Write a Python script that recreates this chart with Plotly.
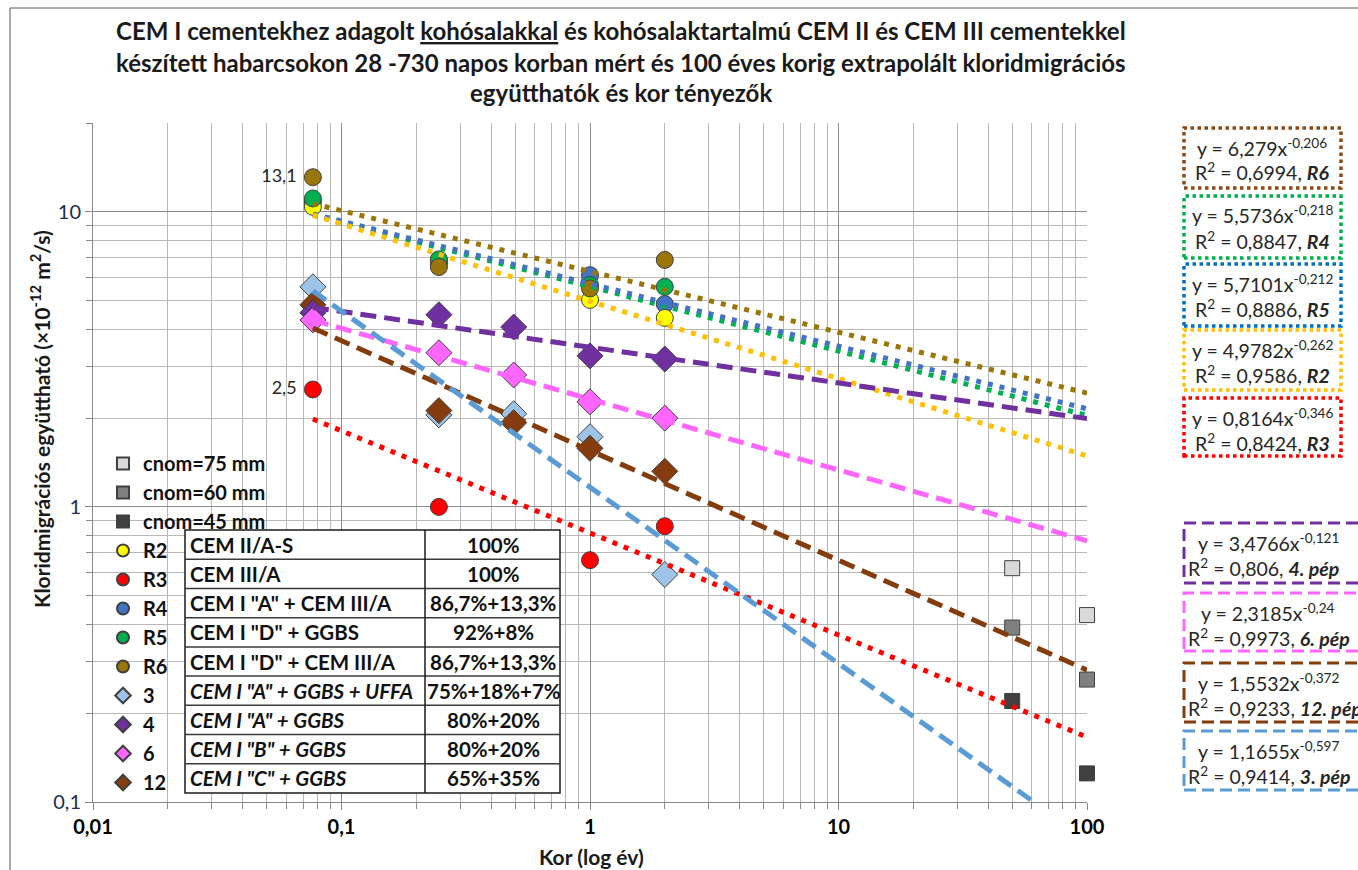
import numpy as np
import plotly.graph_objects as go

# ---------------- data ----------------
ages_R = [28/365, 90/365, 1.0, 2.0]
ages_D = [28/365, 90/365, 180/365, 1.0, 2.0]
ages_cnom = [50, 100]

R2 = [10.4, 6.8, 5.03, 4.37]
R3 = [2.5, 1.0, 0.66, 0.86]
R4 = [10.8, 6.7, 6.1, 4.87]
R5 = [11.1, 6.9, 5.65, 5.57]
R6 = [13.1, 6.5, 5.5, 6.87]

S3 = [5.57, 2.05, 2.07, 1.73, 0.59]
S4 = [4.55, 4.48, 4.07, 3.25, 3.17]
S6 = [4.3, 3.33, 2.8, 2.27, 2.0]
S12 = [4.84, 2.12, 1.93, 1.58, 1.32]

cnom75 = [0.62, 0.43]
cnom60 = [0.39, 0.26]
cnom45 = [0.22, 0.125]

# power trend lines y = a * x^b (as shown on the chart)
trend_names = ["R6", "R4", "R5", "R2", "R3", "4", "6", "12", "3"]
trend_a = [6.279, 5.5736, 5.7101, 4.9782, 0.8164, 3.4766, 2.3185, 1.5532, 1.1655]
trend_b = [-0.206, -0.218, -0.212, -0.262, -0.346, -0.121, -0.24, -0.372, -0.597]
trend_r2 = ["0,6994", "0,8847", "0,8886", "0,9586", "0,8424", "0,806", "0,9973", "0,9233", "0,9414"]
trend_a_txt = ["6,279", "5,5736", "5,7101", "4,9782", "0,8164", "3,4766", "2,3185", "1,5532", "1,1655"]
trend_b_txt = ["-0,206", "-0,218", "-0,212", "-0,262", "-0,346", "-0,121", "-0,24", "-0,372", "-0,597"]
trend_label = ["R6", "R4", "R5", "R2", "R3", "4. pép", "6. pép", "12. pép", "3. pép"]

table_left = ["CEM II/A-S", "CEM III/A", 'CEM I "A" + CEM III/A', 'CEM I "D" + GGBS',
              'CEM I "D" + CEM III/A', 'CEM I "A" + GGBS + UFFA', 'CEM I "A" + GGBS',
              'CEM I "B" + GGBS', 'CEM I "C" + GGBS']
table_right = ["100%", "100%", "86,7%+13,3%", "92%+8%", "86,7%+13,3%", "75%+18%+7%",
               "80%+20%", "80%+20%", "65%+35%"]
table_italic = [False, False, False, False, False, True, True, True, True]

x_tickvals = [0.01, 0.1, 1, 10, 100]
x_ticktext = ["0,01", "0,1", "1", "10", "100"]
y_tickvals = [0.1, 1, 10]
y_ticktext = ["0,1", "1", "10"]

# ---------------- layout geometry (pixels) ----------------
W, H = 1358, 870
L, R, T, B = 93, 1087, 123, 802
FONT = "Lato"


def px(x):
    return (x - L) / (R - L)


def py(y):
    return (B - y) / (B - T)


fig = go.Figure()

OUT = dict(color="#404040", width=1)


def markers(x, y, name, color, symbol, size, rank, text=None):
    fig.add_trace(go.Scatter(
        x=x, y=y, mode="markers+text" if text else "markers", name="<b>" + name + "</b>",
        marker=dict(color=color, symbol=symbol, size=size, line=OUT),
        text=text, textposition="middle left",
        textfont=dict(family=FONT, size=18, color="#262626"),
        legendrank=rank, legendgroup=name, cliponaxis=False))


markers(ages_D, S3, "3", "#9DC3E6", "diamond", 20, 9)
markers(ages_D, S12, "12", "#843C0C", "diamond", 20, 12)
markers(ages_D, S4, "4", "#7030A0", "diamond", 20, 10)
markers(ages_D, S6, "6", "#FF66FF", "diamond", 20, 11)
markers(ages_R, R3, "R3", "#FF0000", "circle", 17, 5, ["2,5 ", "", "", ""])
markers(ages_R, R4, "R4", "#4472C4", "circle", 17, 6)
markers(ages_R, R2, "R2", "#FFFF00", "circle", 17, 4)
markers(ages_R, R5, "R5", "#00B050", "circle", 17, 7)
markers(ages_R, R6, "R6", "#9A7508", "circle", 17, 8, ["13,1 ", "", "", ""])
markers(ages_cnom, cnom75, "cnom=75 mm", "#D9D9D9", "square", 15, 1)
markers(ages_cnom, cnom60, "cnom=60 mm", "#808080", "square", 15, 2)
markers(ages_cnom, cnom45, "cnom=45 mm", "#404040", "square", 15, 3)

trend_colors = ["#9A7508", "#00B050", "#4472C4", "#FFC000", "#FF0000",
                "#7030A0", "#FF66FF", "#843C0C", "#5B9BD5"]
trend_dash = ["5px,7px"] * 5 + ["16px,8px"] * 4
trend_width = [5] * 5 + [5] * 4
xt = np.logspace(np.log10(28/365), 2, 300)
for i in range(len(trend_names)):
    fig.add_trace(go.Scatter(
        x=xt, y=trend_a[i] * xt ** trend_b[i], mode="lines", showlegend=False,
        line=dict(color=trend_colors[i], dash=trend_dash[i], width=trend_width[i]),
        hoverinfo="skip"))

# ---------------- axes ----------------
grid_major = "#8C8C8C"
grid_minor = "#B8B8B8"
x_minor = [m * 10.0 ** e for e in range(-2, 2) for m in range(2, 10)]
y_minor = [m * 10.0 ** e for e in range(-1, 1) for m in range(2, 10)] + [20]

fig.update_xaxes(type="log", range=[-2, 2], tickvals=x_tickvals, ticktext=x_ticktext,
                 showgrid=True, gridcolor=grid_major, gridwidth=1,
                 ticks="outside", ticklen=7, tickcolor="#868686",
                 showline=True, linecolor="#868686", linewidth=1,
                 tickfont=dict(family=FONT, size=20, color="#000000", weight="bold"),
                 minor=dict(tickvals=x_minor, showgrid=True, gridcolor=grid_minor,
                            ticks="outside", ticklen=6, tickcolor="#868686"),
                 zeroline=False)
fig.update_yaxes(type="log", range=[-1, np.log10(20)], tickvals=y_tickvals, ticktext=y_ticktext,
                 showgrid=True, gridcolor=grid_major, gridwidth=1,
                 ticks="outside", ticklen=7, tickcolor="#868686",
                 showline=True, linecolor="#868686", linewidth=1,
                 tickfont=dict(family=FONT, size=20, color="#1F2D50"),
                 minor=dict(tickvals=y_minor, showgrid=True, gridcolor=grid_minor,
                            ticks="outside", ticklen=6, tickcolor="#868686"),
                 zeroline=False)

shapes = []
annotations = []

# outer chart border
shapes.append(dict(type="rect", xref="paper", yref="paper", x0=px(10), x1=px(1420),
                   y0=py(930), y1=py(8), line=dict(color="#5A5A5A", width=1), layer="below"))

# title
title_lines = [
    "CEM I cementekhez adagolt <span style='text-decoration:underline'>kohósalakkal</span> és kohósalaktartalmú CEM II és CEM III cementekkel",
    "készített habarcsokon 28 -730 napos korban mért és 100 éves korig extrapolált kloridmigrációs",
    "együtthatók és kor tényezők",
]
for i, (t, yy) in enumerate(zip(title_lines, [30, 62, 93])):
    annotations.append(dict(text="<b>" + t + "</b>", x=px(621), y=py(yy), xref="paper", yref="paper",
                            showarrow=False, xanchor="center", yanchor="middle",
                            font=dict(family=FONT, size=24, color="#1A1A1A")))

# axis titles
annotations.append(dict(text="<b>Kor (log év)</b>", x=px(591), y=py(856), xref="paper", yref="paper",
                        showarrow=False, xanchor="center", yanchor="middle",
                        font=dict(family=FONT, size=21, color="#1A1A1A")))
annotations.append(dict(text="<b>Kloridmigrációs együttható (×10<sup>-12</sup> m<sup>2</sup>/s)</b>",
                        x=px(40), y=py(419), xref="paper", yref="paper", textangle=-90,
                        showarrow=False, xanchor="center", yanchor="middle",
                        font=dict(family=FONT, size=21, color="#1A1A1A")))

# table
tx0, tx1, tmid, ty0, ty1 = 185, 560, 425, 530, 793
shapes.append(dict(type="rect", xref="paper", yref="paper", x0=px(tx0), x1=px(tx1),
                   y0=py(ty1), y1=py(ty0), fillcolor="white",
                   line=dict(color="#1A1A1A", width=1.5), layer="above"))
nrow = len(table_left)
rh = (ty1 - ty0) / nrow
for k in range(1, nrow):
    yk = ty0 + k * rh
    shapes.append(dict(type="line", xref="paper", yref="paper", x0=px(tx0), x1=px(tx1),
                       y0=py(yk), y1=py(yk), line=dict(color="#3A3A3A", width=1.5), layer="above"))
shapes.append(dict(type="line", xref="paper", yref="paper", x0=px(tmid), x1=px(tmid),
                   y0=py(ty0), y1=py(ty1), line=dict(color="#1A1A1A", width=1.5), layer="above"))
for k in range(nrow):
    yc = ty0 + (k + 0.5) * rh
    lt = "<b>" + table_left[k] + "</b>"
    if table_italic[k]:
        lt = "<i>" + lt + "</i>"
    annotations.append(dict(text=lt, x=px(tx0 + 3), y=py(yc), xref="paper", yref="paper",
                            showarrow=False, xanchor="left", yanchor="middle",
                            font=dict(family=FONT, size=20.5, color="#111111")))
    annotations.append(dict(text="<b>" + table_right[k] + "</b>", x=px((tmid + tx1) / 2 + 1), y=py(yc),
                            xref="paper", yref="paper", showarrow=False, xanchor="center",
                            yanchor="middle", font=dict(family=FONT, size=20.5, color="#111111")))

# trend equation boxes
box_colors = ["#8C4A17", "#00B050", "#0070C0", "#FFC000", "#FF0000",
              "#7030A0", "#FF66FF", "#843C0C", "#5B9BD5"]
box_y = [(128, 188), (196, 258), (264, 326), (330, 390), (398, 456),
         (523, 583), (593, 651), (663, 722), (731, 790)]
for i in range(len(trend_names)):
    y0b, y1b = box_y[i]
    dotted = i < 5
    x1b = 1341 if dotted else 1385
    shapes.append(dict(type="rect", xref="paper", yref="paper", x0=px(1184), x1=px(x1b),
                       y0=py(y1b), y1=py(y0b),
                       line=dict(color=box_colors[i], width=3.5 if dotted else 3,
                                 dash="dot" if dotted else "12px,6px")))
    xc = 1262 if dotted else 1268
    annotations.append(dict(text="y = " + trend_a_txt[i] + "x<sup>" + trend_b_txt[i] + "</sup>",
                            x=px(xc), y=py(y0b + 19), xref="paper", yref="paper",
                            showarrow=False, xanchor="center", yanchor="middle",
                            font=dict(family=FONT, size=19.5, color="#262626")))
    l2 = "R<sup>2</sup> = " + trend_r2[i] + ", <b><i>" + trend_label[i] + "</i></b>"
    if dotted:
        annotations.append(dict(text=l2, x=px(xc), y=py(y0b + 44), xref="paper", yref="paper",
                                showarrow=False, xanchor="center", yanchor="middle",
                                font=dict(family=FONT, size=19.5, color="#262626")))
    else:
        annotations.append(dict(text=l2, x=px(1186), y=py(y0b + 44), xref="paper", yref="paper",
                                showarrow=False, xanchor="left", yanchor="middle",
                                font=dict(family=FONT, size=19.5, color="#262626")))

fig.update_layout(
    width=W, height=H,
    margin=dict(l=L, r=W - R, t=T, b=H - B, pad=0),
    paper_bgcolor="white", plot_bgcolor="white",
    showlegend=True,
    legend=dict(x=px(103), y=py(444), xanchor="left", yanchor="top",
                bgcolor="rgba(0,0,0,0)", font=dict(family=FONT, size=20, color="#111111"),
                itemsizing="constant", tracegroupgap=0, itemwidth=30,
                traceorder="grouped"),
    shapes=shapes, annotations=annotations,
)

fig.write_html("out.html", post_script="document.body.style.margin='0px';",
               config={"displayModeBar": False})
